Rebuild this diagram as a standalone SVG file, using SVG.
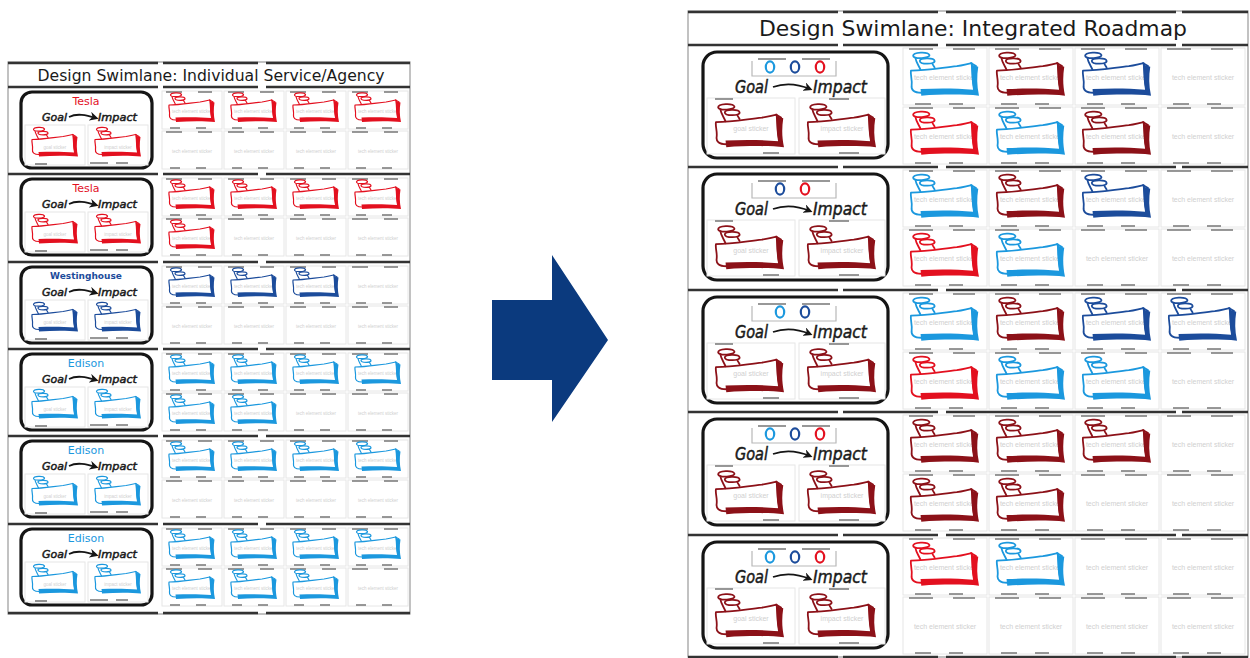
<svg xmlns="http://www.w3.org/2000/svg" width="1250" height="658" viewBox="0 0 1250 658">
<style>
.sep{stroke:#333;stroke-width:2.6;stroke-dasharray:150 5 95 8 230 6 70 7;fill:none}
.frame{fill:none;stroke:#9a9a9a;stroke-width:1.2}
.gbox{fill:none;stroke:#151515;stroke-width:3.2}
.ttl{font-family:"DejaVu Sans",sans-serif;fill:#1a1a1a}
.gi{font-family:"DejaVu Sans",sans-serif;font-style:italic;fill:#1a1a1a;stroke:#1a1a1a;stroke-width:0.5}
.lbl{font-family:"DejaVu Sans",sans-serif;text-anchor:middle}
.ct{font-family:"Liberation Sans",sans-serif;fill:#d0d0d0;text-anchor:middle}
.cbox{fill:#fff;stroke:#e6e6e6;stroke-width:1}
.cdash{stroke:#777;stroke-width:1.6;fill:none}
.dbox{fill:none;stroke:#b8b8b8;stroke-width:1.2}
.sa{fill:none;stroke:#151515;stroke-width:1.8}
.r{color:#e3101f}.dr{color:#8c1118}.db{color:#1c4c9b}.lb{color:#1b98de}
</style>
<defs>
<marker id="ah" viewBox="0 0 10 10" refX="7" refY="5" markerWidth="5" markerHeight="5" orient="auto"><path d="M0,0 L10,5 L0,10 L3,5 Z" fill="#151515"/></marker>
<symbol id="stk" viewBox="0 0 100 60" overflow="visible">
<g fill="none" stroke="currentColor" stroke-width="2.4" stroke-linejoin="round" stroke-linecap="round">
<path d="M11,6 C11,1 31,0 33,5 C34,10 12,11 11,6 Z"/>
<path d="M20,13 C20,9 39,8 40,13 C41,18 20,18 20,13 Z"/>
<path d="M14,9 C15,15 19,20 21,25 M37,17 L40,22"/>
<path d="M8,26 C30,26 50,22 70,20 C78,19 84,17 90,16 L91,22 C91,34 92,44 94,54 C70,53 40,54 22,56 C12,56 8,52 9,46 C10,38 7,32 8,26 Z"/>
<path d="M89,16 L96,20"/>
</g>
<path d="M89,18 L99,21 C97,34 97,46 100,60 C80,58 50,58 22,60 L21,51 C45,50 70,50 92,52 C90,42 90,30 89,18 Z" fill="currentColor"/>
</symbol>
<g id="dot"><ellipse cx="0" cy="0" rx="4.2" ry="5.6" fill="#fff" stroke="currentColor" stroke-width="2.2"/><ellipse cx="-1.2" cy="-1.5" rx="1.2" ry="1.8" fill="#fff"/></g>
<g id="cellR"><rect class="cbox" width="84" height="57"/><path class="cdash" d="M6,1 H30 M50,1 H72 M12,56 H28 M46,56 H60"/><text class="ct" x="42" y="32" font-size="7">tech element sticker</text></g>
<g id="gcellR"><rect class="cbox" width="88" height="56"/><path class="cdash" d="M8,1 H26 M56,55 H72"/><text class="ct" x="44" y="33" font-size="7">goal sticker</text></g>
<g id="icellR"><rect class="cbox" width="86" height="56"/><path class="cdash" d="M30,1 H50 M40,55 H60"/><text class="ct" x="43" y="33" font-size="7">impact sticker</text></g>
<g id="cellL"><rect class="cbox" width="60" height="38"/><path class="cdash" d="M4,1 H20 M36,1 H50 M8,37 H18 M34,37 H44"/><text class="ct" x="30" y="22" font-size="4.5">tech element sticker</text></g>
<g id="gcellL"><rect class="cbox" width="60" height="40"/><path class="cdash" d="M10,39 H22"/><text class="ct" x="30" y="24" font-size="4.5">goal sticker</text></g>
<g id="icellL"><rect class="cbox" width="60" height="40"/><path class="cdash" d="M2,38 H20 M28,38 H40"/><text class="ct" x="30" y="24" font-size="4.5">impact sticker</text></g>
<g id="dboxR"><path class="dbox" d="M0,2 V17 H84 V2"/><path class="cdash" d="M6,0 H34 M50,0 H78"/></g>
</defs>
<rect width="1250" height="658" fill="#fff"/>

<g id="left-panel">
<rect class="frame" x="8" y="62" width="402" height="552"/>
<path class="sep" d="M8,63 H410 M8,87 H410 M8,174 H410 M8,262 H410 M8,349 H410 M8,436 H410 M8,524 H410 M8,613 H410"/>
<text class="ttl" x="211" y="81" font-size="15" text-anchor="middle" textLength="347" lengthAdjust="spacingAndGlyphs">Design Swimlane: Individual Service/Agency</text>
</g>

<g id="left-row1">
<rect class="gbox" x="21" y="92" width="131" height="76" rx="11"/>
<text class="lbl" x="86" y="105" font-size="11" fill="#e3101f">Tesla</text>
<text class="gi" x="42" y="121" font-size="11" textLength="25" lengthAdjust="spacingAndGlyphs">Goal</text><text class="gi" x="98" y="121" font-size="11" textLength="39" lengthAdjust="spacingAndGlyphs">Impact</text>
<use href="#gcellL" x="25" y="125"/><use href="#icellL" x="88" y="125"/>
<use href="#stk" class="r" x="28" y="126" width="50" height="31"/><use href="#stk" class="r" x="91" y="126" width="50" height="31"/>
<use href="#cellL" x="162" y="91"/><use href="#cellL" x="224" y="91"/><use href="#cellL" x="286" y="91"/><use href="#cellL" x="348" y="91"/>
<use href="#cellL" x="162" y="131"/><use href="#cellL" x="224" y="131"/><use href="#cellL" x="286" y="131"/><use href="#cellL" x="348" y="131"/>
<use href="#stk" class="r" x="165" y="92" width="50" height="30"/><use href="#stk" class="r" x="227" y="92" width="50" height="30"/><use href="#stk" class="r" x="289" y="92" width="50" height="30"/><use href="#stk" class="r" x="351" y="92" width="50" height="30"/>
</g>

<g id="left-row2">
<rect class="gbox" x="21" y="179" width="131" height="76" rx="11"/>
<text class="lbl" x="86" y="192" font-size="11" fill="#e3101f">Tesla</text>
<text class="gi" x="42" y="208" font-size="11" textLength="25" lengthAdjust="spacingAndGlyphs">Goal</text><text class="gi" x="98" y="208" font-size="11" textLength="39" lengthAdjust="spacingAndGlyphs">Impact</text>
<use href="#gcellL" x="25" y="212"/><use href="#icellL" x="88" y="212"/>
<use href="#stk" class="r" x="28" y="213" width="50" height="31"/><use href="#stk" class="r" x="91" y="213" width="50" height="31"/>
<use href="#cellL" x="162" y="178"/><use href="#cellL" x="224" y="178"/><use href="#cellL" x="286" y="178"/><use href="#cellL" x="348" y="178"/>
<use href="#cellL" x="162" y="218"/><use href="#cellL" x="224" y="218"/><use href="#cellL" x="286" y="218"/><use href="#cellL" x="348" y="218"/>
<use href="#stk" class="r" x="165" y="179" width="50" height="30"/><use href="#stk" class="r" x="227" y="179" width="50" height="30"/><use href="#stk" class="r" x="289" y="179" width="50" height="30"/><use href="#stk" class="r" x="351" y="179" width="50" height="30"/>
<use href="#stk" class="r" x="165" y="219" width="50" height="30"/>
</g>

<g id="left-row3">
<rect class="gbox" x="21" y="267" width="131" height="76" rx="11"/>
<text class="lbl" x="86" y="279" font-size="9" font-weight="bold" fill="#1c4c9b">Westinghouse</text>
<text class="gi" x="42" y="296" font-size="11" textLength="25" lengthAdjust="spacingAndGlyphs">Goal</text><text class="gi" x="98" y="296" font-size="11" textLength="39" lengthAdjust="spacingAndGlyphs">Impact</text>
<use href="#gcellL" x="25" y="300"/><use href="#icellL" x="88" y="300"/>
<use href="#stk" class="db" x="28" y="301" width="50" height="31"/><use href="#stk" class="db" x="91" y="301" width="50" height="31"/>
<use href="#cellL" x="162" y="266"/><use href="#cellL" x="224" y="266"/><use href="#cellL" x="286" y="266"/><use href="#cellL" x="348" y="266"/>
<use href="#cellL" x="162" y="306"/><use href="#cellL" x="224" y="306"/><use href="#cellL" x="286" y="306"/><use href="#cellL" x="348" y="306"/>
<use href="#stk" class="db" x="165" y="267" width="50" height="30"/><use href="#stk" class="db" x="227" y="267" width="50" height="30"/><use href="#stk" class="db" x="289" y="267" width="50" height="30"/>
</g>

<g id="left-row4">
<rect class="gbox" x="21" y="354" width="131" height="76" rx="11"/>
<text class="lbl" x="86" y="367" font-size="11" fill="#1b98de">Edison</text>
<text class="gi" x="42" y="383" font-size="11" textLength="25" lengthAdjust="spacingAndGlyphs">Goal</text><text class="gi" x="98" y="383" font-size="11" textLength="39" lengthAdjust="spacingAndGlyphs">Impact</text>
<use href="#gcellL" x="25" y="387"/><use href="#icellL" x="88" y="387"/>
<use href="#stk" class="lb" x="28" y="388" width="50" height="31"/><use href="#stk" class="lb" x="91" y="388" width="50" height="31"/>
<use href="#cellL" x="162" y="353"/><use href="#cellL" x="224" y="353"/><use href="#cellL" x="286" y="353"/><use href="#cellL" x="348" y="353"/>
<use href="#cellL" x="162" y="393"/><use href="#cellL" x="224" y="393"/><use href="#cellL" x="286" y="393"/><use href="#cellL" x="348" y="393"/>
<use href="#stk" class="lb" x="165" y="354" width="50" height="30"/><use href="#stk" class="lb" x="227" y="354" width="50" height="30"/><use href="#stk" class="lb" x="289" y="354" width="50" height="30"/><use href="#stk" class="lb" x="351" y="354" width="50" height="30"/>
<use href="#stk" class="lb" x="165" y="394" width="50" height="30"/><use href="#stk" class="lb" x="227" y="394" width="50" height="30"/>
</g>

<g id="left-row5">
<rect class="gbox" x="21" y="441" width="131" height="76" rx="11"/>
<text class="lbl" x="86" y="454" font-size="11" fill="#1b98de">Edison</text>
<text class="gi" x="42" y="470" font-size="11" textLength="25" lengthAdjust="spacingAndGlyphs">Goal</text><text class="gi" x="98" y="470" font-size="11" textLength="39" lengthAdjust="spacingAndGlyphs">Impact</text>
<use href="#gcellL" x="25" y="474"/><use href="#icellL" x="88" y="474"/>
<use href="#stk" class="lb" x="28" y="475" width="50" height="31"/><use href="#stk" class="lb" x="91" y="475" width="50" height="31"/>
<use href="#cellL" x="162" y="440"/><use href="#cellL" x="224" y="440"/><use href="#cellL" x="286" y="440"/><use href="#cellL" x="348" y="440"/>
<use href="#cellL" x="162" y="480"/><use href="#cellL" x="224" y="480"/><use href="#cellL" x="286" y="480"/><use href="#cellL" x="348" y="480"/>
<use href="#stk" class="lb" x="165" y="441" width="50" height="30"/><use href="#stk" class="lb" x="227" y="441" width="50" height="30"/><use href="#stk" class="lb" x="289" y="441" width="50" height="30"/><use href="#stk" class="lb" x="351" y="441" width="50" height="30"/>
</g>

<g id="left-row6">
<rect class="gbox" x="21" y="529" width="131" height="76" rx="11"/>
<text class="lbl" x="86" y="542" font-size="11" fill="#1b98de">Edison</text>
<text class="gi" x="42" y="558" font-size="11" textLength="25" lengthAdjust="spacingAndGlyphs">Goal</text><text class="gi" x="98" y="558" font-size="11" textLength="39" lengthAdjust="spacingAndGlyphs">Impact</text>
<use href="#gcellL" x="25" y="562"/><use href="#icellL" x="88" y="562"/>
<use href="#stk" class="lb" x="28" y="563" width="50" height="31"/><use href="#stk" class="lb" x="91" y="563" width="50" height="31"/>
<use href="#cellL" x="162" y="528"/><use href="#cellL" x="224" y="528"/><use href="#cellL" x="286" y="528"/><use href="#cellL" x="348" y="528"/>
<use href="#cellL" x="162" y="568"/><use href="#cellL" x="224" y="568"/><use href="#cellL" x="286" y="568"/><use href="#cellL" x="348" y="568"/>
<use href="#stk" class="lb" x="165" y="529" width="50" height="30"/><use href="#stk" class="lb" x="227" y="529" width="50" height="30"/><use href="#stk" class="lb" x="289" y="529" width="50" height="30"/><use href="#stk" class="lb" x="351" y="529" width="50" height="30"/>
<use href="#stk" class="lb" x="165" y="569" width="50" height="30"/><use href="#stk" class="lb" x="227" y="569" width="50" height="30"/><use href="#stk" class="lb" x="289" y="569" width="50" height="30"/>
</g>

<g id="right-panel">
<rect class="frame" x="688" y="11" width="560" height="646"/>
<path class="sep" d="M688,12 H1248 M688,45 H1248 M688,167 H1248 M688,290 H1248 M688,412 H1248 M688,535 H1248 M688,657 H1248"/>
<text class="ttl" x="973" y="36" font-size="21" text-anchor="middle" textLength="428" lengthAdjust="spacingAndGlyphs">Design Swimlane: Integrated Roadmap</text>
</g>

<g id="right-row1">
<rect class="gbox" x="703" y="52" width="185" height="106" rx="14"/>
<use href="#dboxR" x="752" y="59"/>
<use href="#dot" class="lb" x="770" y="67"/><use href="#dot" class="db" x="795" y="67"/><use href="#dot" class="r" x="820" y="67"/>
<text class="gi" x="735" y="93" font-size="18" textLength="33" lengthAdjust="spacingAndGlyphs">Goal</text><text class="gi" x="813" y="93" font-size="18" textLength="54" lengthAdjust="spacingAndGlyphs">Impact</text>
<use href="#gcellR" x="707" y="98"/><use href="#icellR" x="799" y="98"/>
<use href="#stk" class="dr" x="710" y="102" width="74" height="46"/><use href="#stk" class="dr" x="802" y="102" width="74" height="46"/>
<use href="#cellR" x="903" y="48"/><use href="#cellR" x="989" y="48"/><use href="#cellR" x="1075" y="48"/><use href="#cellR" x="1161" y="48"/>
<use href="#cellR" x="903" y="107"/><use href="#cellR" x="989" y="107"/><use href="#cellR" x="1075" y="107"/><use href="#cellR" x="1161" y="107"/>
<use href="#stk" class="lb" x="905" y="51" width="74" height="45"/><use href="#stk" class="dr" x="991" y="51" width="74" height="45"/><use href="#stk" class="db" x="1077" y="51" width="74" height="45"/>
<use href="#stk" class="r" x="905" y="110" width="74" height="45"/><use href="#stk" class="lb" x="991" y="110" width="74" height="45"/><use href="#stk" class="dr" x="1077" y="110" width="74" height="45"/>
</g>

<g id="right-row2">
<rect class="gbox" x="703" y="174" width="185" height="106" rx="14"/>
<use href="#dboxR" x="752" y="181"/>
<use href="#dot" class="db" x="780" y="189"/><use href="#dot" class="r" x="805" y="189"/>
<text class="gi" x="735" y="215" font-size="18" textLength="33" lengthAdjust="spacingAndGlyphs">Goal</text><text class="gi" x="813" y="215" font-size="18" textLength="54" lengthAdjust="spacingAndGlyphs">Impact</text>
<use href="#gcellR" x="707" y="220"/><use href="#icellR" x="799" y="220"/>
<use href="#stk" class="dr" x="710" y="224" width="74" height="46"/><use href="#stk" class="dr" x="802" y="224" width="74" height="46"/>
<use href="#cellR" x="903" y="170"/><use href="#cellR" x="989" y="170"/><use href="#cellR" x="1075" y="170"/><use href="#cellR" x="1161" y="170"/>
<use href="#cellR" x="903" y="229"/><use href="#cellR" x="989" y="229"/><use href="#cellR" x="1075" y="229"/><use href="#cellR" x="1161" y="229"/>
<use href="#stk" class="lb" x="905" y="173" width="74" height="45"/><use href="#stk" class="dr" x="991" y="173" width="74" height="45"/><use href="#stk" class="db" x="1077" y="173" width="74" height="45"/>
<use href="#stk" class="r" x="905" y="232" width="74" height="45"/><use href="#stk" class="lb" x="991" y="232" width="74" height="45"/>
</g>

<g id="right-row3">
<rect class="gbox" x="703" y="297" width="185" height="106" rx="14"/>
<use href="#dboxR" x="752" y="304"/>
<use href="#dot" class="lb" x="780" y="312"/><use href="#dot" class="db" x="805" y="312"/>
<text class="gi" x="735" y="338" font-size="18" textLength="33" lengthAdjust="spacingAndGlyphs">Goal</text><text class="gi" x="813" y="338" font-size="18" textLength="54" lengthAdjust="spacingAndGlyphs">Impact</text>
<use href="#gcellR" x="707" y="343"/><use href="#icellR" x="799" y="343"/>
<use href="#stk" class="dr" x="710" y="347" width="74" height="46"/><use href="#stk" class="dr" x="802" y="347" width="74" height="46"/>
<use href="#cellR" x="903" y="293"/><use href="#cellR" x="989" y="293"/><use href="#cellR" x="1075" y="293"/><use href="#cellR" x="1161" y="293"/>
<use href="#cellR" x="903" y="352"/><use href="#cellR" x="989" y="352"/><use href="#cellR" x="1075" y="352"/><use href="#cellR" x="1161" y="352"/>
<use href="#stk" class="lb" x="905" y="296" width="74" height="45"/><use href="#stk" class="dr" x="991" y="296" width="74" height="45"/><use href="#stk" class="db" x="1077" y="296" width="74" height="45"/><use href="#stk" class="db" x="1163" y="296" width="74" height="45"/>
<use href="#stk" class="r" x="905" y="355" width="74" height="45"/><use href="#stk" class="lb" x="991" y="355" width="74" height="45"/><use href="#stk" class="lb" x="1077" y="355" width="74" height="45"/>
</g>

<g id="right-row4">
<rect class="gbox" x="703" y="419" width="185" height="106" rx="14"/>
<use href="#dboxR" x="752" y="426"/>
<use href="#dot" class="lb" x="770" y="434"/><use href="#dot" class="db" x="795" y="434"/><use href="#dot" class="r" x="820" y="434"/>
<text class="gi" x="735" y="460" font-size="18" textLength="33" lengthAdjust="spacingAndGlyphs">Goal</text><text class="gi" x="813" y="460" font-size="18" textLength="54" lengthAdjust="spacingAndGlyphs">Impact</text>
<use href="#gcellR" x="707" y="465"/><use href="#icellR" x="799" y="465"/>
<use href="#stk" class="dr" x="710" y="469" width="74" height="46"/><use href="#stk" class="dr" x="802" y="469" width="74" height="46"/>
<use href="#cellR" x="903" y="415"/><use href="#cellR" x="989" y="415"/><use href="#cellR" x="1075" y="415"/><use href="#cellR" x="1161" y="415"/>
<use href="#cellR" x="903" y="474"/><use href="#cellR" x="989" y="474"/><use href="#cellR" x="1075" y="474"/><use href="#cellR" x="1161" y="474"/>
<use href="#stk" class="dr" x="905" y="418" width="74" height="45"/><use href="#stk" class="dr" x="991" y="418" width="74" height="45"/><use href="#stk" class="dr" x="1077" y="418" width="74" height="45"/>
<use href="#stk" class="dr" x="905" y="477" width="74" height="45"/><use href="#stk" class="dr" x="991" y="477" width="74" height="45"/>
</g>

<g id="right-row5">
<rect class="gbox" x="703" y="542" width="185" height="106" rx="14"/>
<use href="#dboxR" x="752" y="549"/>
<use href="#dot" class="lb" x="770" y="557"/><use href="#dot" class="db" x="795" y="557"/><use href="#dot" class="r" x="820" y="557"/>
<text class="gi" x="735" y="583" font-size="18" textLength="33" lengthAdjust="spacingAndGlyphs">Goal</text><text class="gi" x="813" y="583" font-size="18" textLength="54" lengthAdjust="spacingAndGlyphs">Impact</text>
<use href="#gcellR" x="707" y="588"/><use href="#icellR" x="799" y="588"/>
<use href="#stk" class="dr" x="710" y="592" width="74" height="46"/><use href="#stk" class="dr" x="802" y="592" width="74" height="46"/>
<use href="#cellR" x="903" y="538"/><use href="#cellR" x="989" y="538"/><use href="#cellR" x="1075" y="538"/><use href="#cellR" x="1161" y="538"/>
<use href="#cellR" x="903" y="597"/><use href="#cellR" x="989" y="597"/><use href="#cellR" x="1075" y="597"/><use href="#cellR" x="1161" y="597"/>
<use href="#stk" class="r" x="905" y="541" width="74" height="45"/><use href="#stk" class="lb" x="991" y="541" width="74" height="45"/>
</g>

<g id="connectors">
<path class="sa" marker-end="url(#ah)" d="M69,117 C77,113 86,115 96,118"/>
<path class="sa" marker-end="url(#ah)" d="M69,204 C77,200 86,202 96,205"/>
<path class="sa" marker-end="url(#ah)" d="M69,292 C77,288 86,290 96,293"/>
<path class="sa" marker-end="url(#ah)" d="M69,379 C77,375 86,377 96,380"/>
<path class="sa" marker-end="url(#ah)" d="M69,466 C77,462 86,464 96,467"/>
<path class="sa" marker-end="url(#ah)" d="M69,554 C77,550 86,552 96,555"/>
<path class="sa" stroke-width="2.2" marker-end="url(#ah)" d="M773,87 C784,83 798,84 810,89"/>
<path class="sa" stroke-width="2.2" marker-end="url(#ah)" d="M773,209 C784,205 798,206 810,211"/>
<path class="sa" stroke-width="2.2" marker-end="url(#ah)" d="M773,332 C784,328 798,329 810,334"/>
<path class="sa" stroke-width="2.2" marker-end="url(#ah)" d="M773,454 C784,450 798,451 810,456"/>
<path class="sa" stroke-width="2.2" marker-end="url(#ah)" d="M773,577 C784,573 798,574 810,579"/>
<polygon id="big-arrow" points="492,300 552,300 552,255 608,340 552,422 552,380 492,380" fill="#0b3a7e"/>
</g>
</svg>
